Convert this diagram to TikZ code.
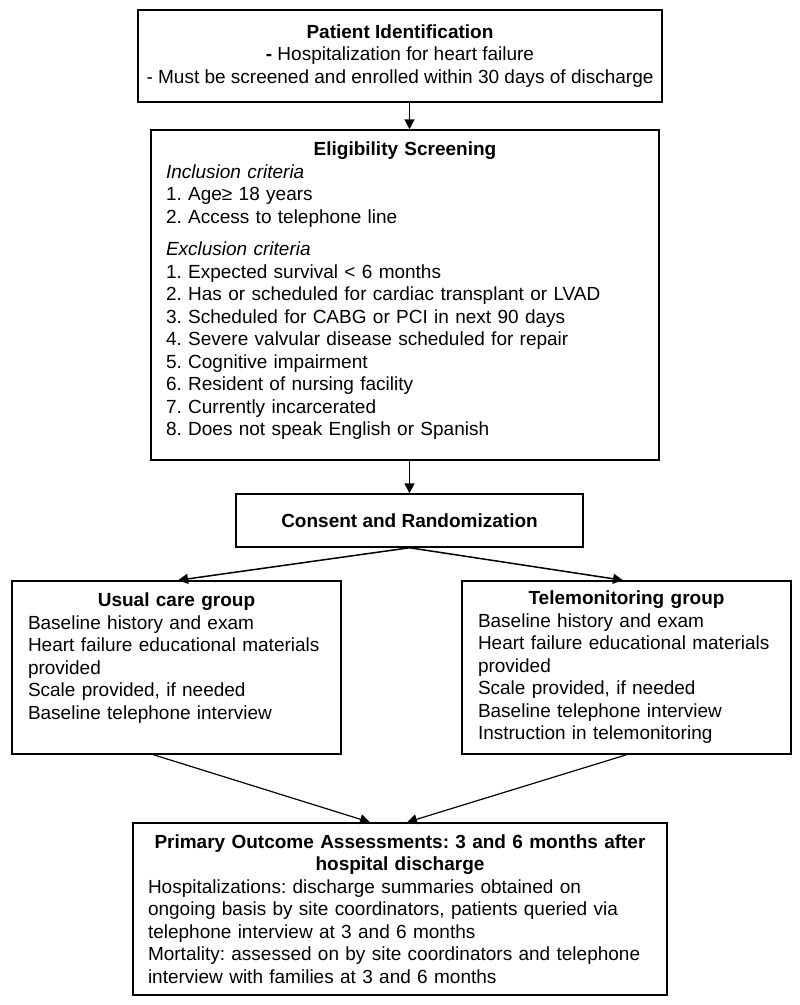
\documentclass[tikz,border=0pt]{standalone}
\usepackage{fontspec}
\setmainfont{Liberation Sans}
\usetikzlibrary{arrows.meta,positioning}
\frenchspacing

\begin{document}
\begin{tikzpicture}[x=1pt,y=-1pt,
  block/.style={draw,line width=1.5pt,inner sep=0pt,align=center,font=\fontsize{19pt}{22.5pt}\selectfont},
  listbox/.style={block,align=left,inner xsep=15pt},
  arrow/.style={-{Triangle[length=10pt,width=10pt]},line width=1.5pt}]
  \useasboundingbox (0,0) rectangle (800,1005);
  \node[block,minimum width=524pt,minimum height=92pt] (ident) at (400,56)
    {\textbf{Patient Identification}\\\textbf{-} Hospitalization for heart failure\\- Must be screened and enrolled within 30 days of discharge};
  \node[listbox,text width=478pt,minimum width=508pt,minimum height=330pt] (elig) at (405,295)
    {{\centering\bfseries Eligibility Screening\par}
     \textit{Inclusion criteria}\\
     1. Age≥ 18 years\\
     2. Access to telephone line\\[10pt]
     \textit{Exclusion criteria}\\
     1. Expected survival < 6 months\\
     2. Has or scheduled for cardiac transplant or LVAD\\
     3. Scheduled for CABG or PCI in next 90 days\\
     4. Severe valvular disease scheduled for repair\\
     5. Cognitive impairment\\
     6. Resident of nursing facility\\
     7. Currently incarcerated\\
     8. Does not speak English or Spanish\\[-10pt]~};
  \node[block,minimum width=347pt,minimum height=53pt] (consent) at (409.5,520.5) {\textbf{Consent and Randomization}};
  \node[listbox,inner xsep=16pt,text width=297pt,minimum width=329pt,minimum height=173pt] (usual) at (176.5,667.5)
    {{\centering\bfseries Usual care group\par}
     Baseline history and exam\\
     Heart failure educational materials\\
     provided\\
     Scale provided, if needed\\
     Baseline telephone interview\\ ~};
  \node[listbox,inner xsep=16pt,text width=297pt,minimum width=329pt,minimum height=173pt] (tele) at (626.5,667.5)
    {{\centering\bfseries Telemonitoring group\par}
     Baseline history and exam\\
     Heart failure educational materials\\
     provided\\
     Scale provided, if needed\\
     Baseline telephone interview\\
     Instruction in telemonitoring};
  \node[listbox,text width=504pt,minimum width=534pt,minimum height=172pt] (outcome) at (400,909)
    {{\centering\bfseries Primary Outcome Assessments: 3 and 6 months after\\ hospital discharge\par}
     Hospitalizations: discharge summaries obtained on\\
     ongoing basis by site coordinators, patients queried via\\
     telephone interview at 3 and 6 months\\
     Mortality: assessed on by site coordinators and telephone\\
     interview with families at 3 and 6 months};
  \draw[arrow] (ident.south -| consent.north) -- (elig.north -| consent.north);
  \draw[arrow] (elig.south -| consent.north) -- (consent.north);
  \draw[arrow] (consent.south) -- ([xshift=1.5pt]usual.north);
  \draw[arrow] (consent.south) -- ([xshift=-3.5pt]tele.north);
  \draw[arrow,line width=1.2pt] ([xshift=-23pt]usual.south) -- ([xshift=-30pt]outcome.north);
  \draw[arrow,line width=1.2pt] (tele.south) -- ([xshift=7pt]outcome.north);
\end{tikzpicture}
\end{document}
